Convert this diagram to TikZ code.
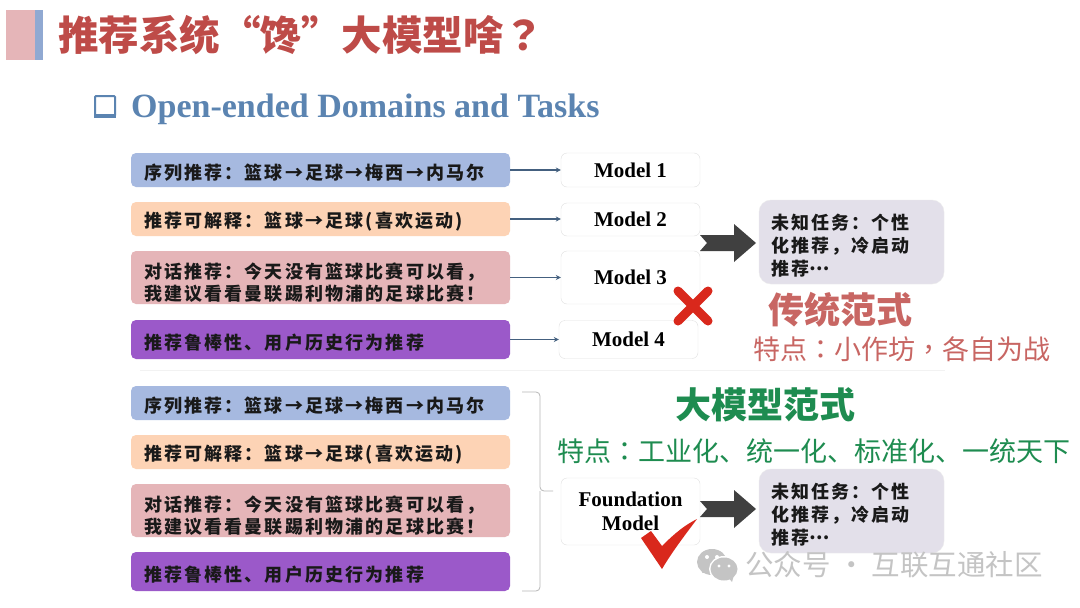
\documentclass[tikz,border=0pt]{standalone}
\usepackage{fontspec}
\setmainfont{Noto Sans CJK SC}
\newfontfamily\tcface{Noto Sans CJK TC}
\newfontfamily\kaiface[LetterSpace=12]{Noto Sans CJK SC}
\newfontfamily\latface{Liberation Serif}
\usetikzlibrary{calc,arrows.meta}
\definecolor{cblue}{HTML}{A6B9E0}
\definecolor{corange}{HTML}{FDD3B5}
\definecolor{cpink}{HTML}{E5B5B8}
\definecolor{cpurple}{HTML}{9B59C9}
\definecolor{clav}{HTML}{E3E0EA}
\definecolor{tred}{HTML}{BE4B48}
\definecolor{tblue}{HTML}{5B84B1}
\definecolor{tgreen}{HTML}{1E8C50}
\definecolor{cdark}{HTML}{404040}
\definecolor{cgrey}{HTML}{C4C4C4}
\definecolor{cline}{HTML}{44607F}
\definecolor{cmark}{HTML}{D9281C}
\tikzset{
 rowbox/.style={rounded corners=5pt,minimum width=379pt,text width=353pt,inner xsep=13pt,inner ysep=0pt,align=left,
   font=\kaiface\bfseries\fontsize{18}{22}\selectfont,text=black!90,execute at begin node={\lineskiplimit=-30pt\relax\rule{0pt}{21.5pt}}},
 modelbox/.style={draw=black!12,fill=white,rounded corners=6pt,minimum width=139pt,inner sep=0pt,align=center,
   font=\latface\bfseries\fontsize{21}{24}\selectfont},
 taskbox/.style={draw=black!8,fill=clav,rounded corners=12pt,minimum width=185pt,minimum height=84pt,text width=161pt,inner xsep=12pt,inner ysep=0pt,align=left,
   font=\kaiface\bfseries\fontsize{18}{23}\selectfont,text=black!90,execute at begin node={\lineskiplimit=-30pt\relax\rule{0pt}{23pt}}},
 link/.style={draw=cline,line width=1.1pt,-{Stealth[length=5pt,width=5pt]}},
 blockarrow/.pic={\fill[cdark] (0,-8) -- (34,-8) -- (34,-19) -- (56,0) -- (34,19) -- (34,8) -- (0,8) -- (7,0) -- cycle;},
 heading/.style={inner sep=0pt,font=\bfseries\fontsize{36}{40}\selectfont},
 subhead/.style={inner sep=0pt,font=\fontsize{27}{34}\selectfont},
}
\begin{document}
\begin{tikzpicture}[x=1pt,y=-1pt]
\useasboundingbox (0,0) rectangle (1080,608);
\fill[white] (0,0) rectangle (1080,608);
% title bar
\fill[cpink] (6,10) rectangle (35,60);
\fill[cblue!70!tblue] (35,10) rectangle (43,60);
\node[inner sep=0pt,anchor=west,text=tred,font=\bfseries\fontsize{40.5}{44}\selectfont] (title) at (58,35) {推荐系统“馋”大模型啥{\tcface ？}};
% subtitle
\draw[tblue,line width=2pt,fill=white,rounded corners=1pt] (95,96) rectangle (115,116);
\fill[tblue] (94,114) rectangle (116,118);
\node[inner sep=0pt,anchor=west,text=tblue,font=\latface\bfseries\fontsize{34}{36}\selectfont] (sub) at (131,109) {Open-ended Domains and Tasks};
% top rows
\node[rowbox,fill=cblue,minimum height=34pt] (r1) at (320.5,170) {序列推荐：篮球→足球→梅西→内马尔};
\node[rowbox,fill=corange,minimum height=34pt] (r2) at (320.5,219) {推荐可解释：篮球→足球(喜欢运动)};
\node[rowbox,fill=cpink,minimum height=53pt] (r3) at (320.5,277.5) {\rule{0pt}{25pt}对话推荐：今天没有篮球比赛可以看，\\我建议看看曼联踢利物浦的足球比赛！};
\node[rowbox,fill=cpurple,minimum height=39pt] (r4) at (320.5,339.5) {推荐鲁棒性、用户历史行为推荐};
% models
\node[modelbox,minimum height=34pt] (m1) at (630.5,170) {Model 1};
\node[modelbox,minimum height=33pt] (m2) at (630.5,219.5) {Model 2};
\node[modelbox,minimum height=53pt] (m3) at (630.5,277.5) {Model 3};
\node[modelbox,minimum height=38pt] (m4) at (628.5,339.5) {Model 4};
\draw[link] (r1.east) -- (m1.west);
\draw[link] (r2.east) -- (r2.east -| m2.west);
\draw[link] (r3.east) -- (m3.west);
\draw[link] (r4.east) -- (m4.west);
% task top
\node[taskbox] (t1) at (851.5,242) {未知任务：个性\\化推荐，冷启动\\推荐\raisebox{5pt}{⋯}};
\coordinate (a1) at (700,243);
\pic at (a1) {blockarrow};
% cross
\draw[cmark,line width=9pt,line cap=round] (678,291) -- (708,321) (708,291) -- (678,321);
\node[heading,text=tred!85!white] (h1) at (840,310) {传统范式};
\node[subhead,text=tred!85!white,anchor=west] (s1) at (753,349) {特点{\tcface ：}小作坊{\tcface ，}各自为战};
% separator
\draw[black!5,line width=1pt] (140,370) -- (945,370);
% bottom rows
\node[rowbox,fill=cblue,minimum height=34pt] (b1) at (320.5,403) {序列推荐：篮球→足球→梅西→内马尔};
\node[rowbox,fill=corange,minimum height=34pt] (b2) at (320.5,452) {推荐可解释：篮球→足球(喜欢运动)};
\node[rowbox,fill=cpink,minimum height=53pt] (b3) at (320.5,510.5) {\rule{0pt}{25pt}对话推荐：今天没有篮球比赛可以看，\\我建议看看曼联踢利物浦的足球比赛！};
\node[rowbox,fill=cpurple,minimum height=39pt] (b4) at (320.5,571.5) {推荐鲁棒性、用户历史行为推荐};
% brace
\coordinate (bt) at (522,392);
\coordinate (bb) at (522,591);
\coordinate (bm) at (553,491);
\draw[black!28,line width=0.8pt,rounded corners=4pt] (bt) -- (540,392) -- (540,491) -- (bm);
\draw[black!28,line width=0.8pt,rounded corners=4pt] (bb) -- (540,591) -- (540,491);
% foundation
\node[modelbox,minimum height=67pt] (fm) at (630.5,511.5) {Foundation\\Model};
\node[taskbox] (t2) at (851.5,511) {未知任务：个性\\化推荐，冷启动\\推荐\raisebox{5pt}{⋯}};
\coordinate (a2) at (700,509);
\pic at (a2) {blockarrow};
% check
\fill[cmark] (641,538) -- (651,531) -- (662,546) .. controls (675,533) and (685,525) .. (697,519) .. controls (685,535) and (672,552) .. (662,569) -- cycle;
\node[heading,text=tgreen] (h2) at (765,405) {大模型范式};
\node[subhead,text=tgreen,anchor=west] (s2) at (557,451) {特点{\tcface ：}工业化、统一化、标准化、一统天下};
% watermark
\fill[cgrey] (712,562) ellipse (15pt and 13pt);
\fill[cgrey] (702,573) -- (706,565) -- (710,572) -- cycle;
\fill[white] (724,569) ellipse (15pt and 13pt);
\fill[cgrey] (724,569) ellipse (13.5pt and 11.5pt);
\fill[cgrey] (732,582) -- (727,576) -- (734,575) -- cycle;
\fill[white] (707,557) circle (2pt) (717,557) circle (2pt) (719,566) circle (1.7pt) (729,566) circle (1.7pt);
\node[inner sep=0pt,anchor=west,text=cgrey,font=\fontsize{28.5}{32}\selectfont] (wm) at (745,565) {公众号 · 互联互通社区};
\end{tikzpicture}
\end{document}
